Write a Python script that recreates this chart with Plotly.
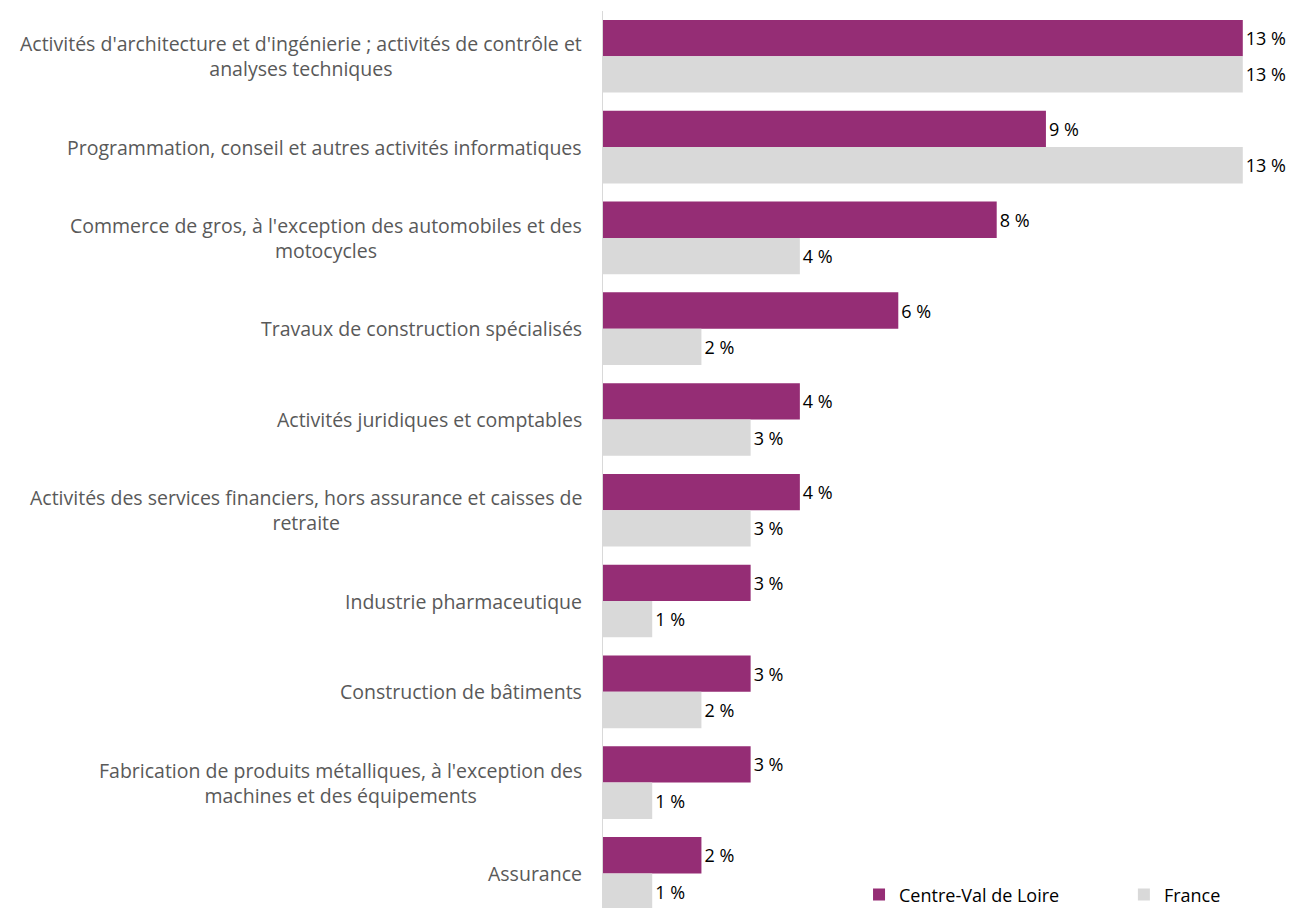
import plotly.graph_objects as go

categories = [
    "Activités d'architecture et d'ingénierie ; activités de contrôle et<br>analyses techniques",
    "Programmation, conseil et autres activités informatiques",
    "Commerce de gros, à l'exception des automobiles et des<br>motocycles",
    "Travaux de construction spécialisés",
    "Activités juridiques et comptables",
    "Activités des services financiers, hors assurance et caisses de<br>retraite",
    "Industrie pharmaceutique",
    "Construction de bâtiments",
    "Fabrication de produits métalliques, à l'exception des<br>machines et des équipements",
    "Assurance",
]
centre_val_de_loire = [13, 9, 8, 6, 4, 4, 3, 3, 3, 2]
france = [13, 13, 4, 2, 3, 3, 1, 2, 1, 1]
series_names = ["Centre-Val de Loire", "France"]

FONT = "Open Sans"
SIZE = 19.5
LABEL_SIZE = 18
idx = list(range(len(categories)))

fig = go.Figure()
fig.add_trace(go.Bar(
    y=idx, x=centre_val_de_loire, orientation="h", name=series_names[0],
    marker=dict(color="#952D75", line=dict(width=0)),
    text=[f"{v} %" for v in centre_val_de_loire], textposition="outside",
    textfont=dict(family=FONT, size=LABEL_SIZE, color="#000000"), cliponaxis=False,
    legend="legend",
))
fig.add_trace(go.Bar(
    y=idx, x=france, orientation="h", name=series_names[1],
    marker=dict(color="#D9D9D9", line=dict(width=0)),
    text=[f"{v} %" for v in france], textposition="outside",
    textfont=dict(family=FONT, size=LABEL_SIZE, color="#000000"), cliponaxis=False,
    legend="legend2",
))

for i, c in enumerate(categories):
    fig.add_annotation(
        x=-0.0275, xref="paper", y=i, yref="y", text=c, showarrow=False,
        xanchor="right", yanchor="middle", align="center",
        font=dict(family=FONT, size=SIZE, color="#595959"),
    )

legend_style = dict(
    orientation="h", xanchor="left", y=-0.006, yanchor="bottom",
    font=dict(family=FONT, size=LABEL_SIZE, color="#000000"),
    bgcolor="rgba(255,255,255,0)",
)

fig.update_layout(
    width=1287, height=900,
    margin=dict(l=595, r=3, t=3, b=0, autoexpand=False),
    paper_bgcolor="white", plot_bgcolor="white",
    barmode="group", bargap=0.2, bargroupgap=0,
    showlegend=True,
    legend=dict(x=0.3716, **legend_style),
    legend2=dict(x=0.756, **legend_style),
    xaxis=dict(range=[0, 14], showgrid=False, zeroline=False, showticklabels=False,
               showline=False, fixedrange=True),
    yaxis=dict(range=[9.381, -0.499], showgrid=False, zeroline=False, showticklabels=False,
               showline=True, linecolor="#D9D9D9", linewidth=1, ticks=""),
    font=dict(family=FONT),
)

fig.write_html("out.html")
